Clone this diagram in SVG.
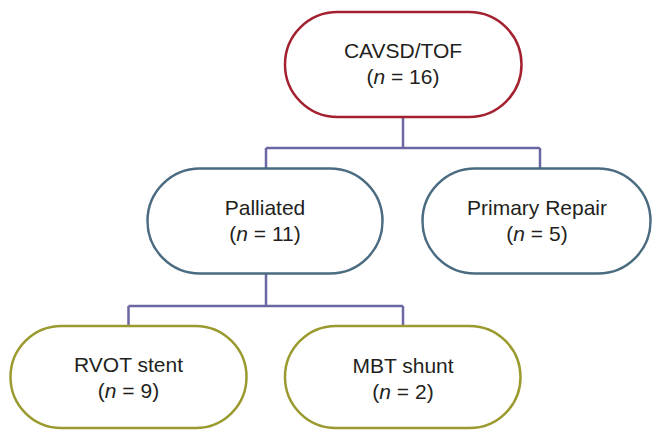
<svg xmlns="http://www.w3.org/2000/svg" width="652" height="430" viewBox="0 0 652 430">
  <style>
    .node { fill: #ffffff; stroke-width: 2.5; }
    .root { stroke: #a3202f; }
    .mid { stroke: #4a6b80; }
    .leaf { stroke: #9b9a2f; }
    .label { font-family: "Liberation Sans", Arial, sans-serif; font-size: 21px; fill: #231f20; text-anchor: middle; }
    .conn { fill: none; stroke: #6b67a3; stroke-width: 2.5; }
  </style>
  <rect width="652" height="430" fill="#ffffff"/>

  <g id="connectors">
    <path class="conn" d="M403 117 V148 M266 148 H540 M266 168 V148 M540 148 V168"/>
    <path class="conn" d="M266 273 V306 M128.5 306 H403 M128.5 306 V326 M403 306 V326"/>
  </g>

  <g id="cavsd-tof">
    <rect class="node root" x="285" y="12" width="236.5" height="105" rx="52.5"/>
    <text class="label" x="403" y="58">CAVSD/TOF</text>
    <text class="label" x="403" y="84">(<tspan font-style="italic">n</tspan> = 16)</text>
  </g>

  <g id="palliated">
    <rect class="node mid" x="147.5" y="168.5" width="235" height="105" rx="52.5"/>
    <text class="label" x="265" y="215">Palliated</text>
    <text class="label" x="265" y="241">(<tspan font-style="italic">n</tspan> = 11)</text>
  </g>

  <g id="primary-repair">
    <rect class="node mid" x="422.5" y="168.5" width="228" height="105" rx="52.5"/>
    <text class="label" x="537" y="214.5">Primary Repair</text>
    <text class="label" x="537" y="240.5">(<tspan font-style="italic">n</tspan> = 5)</text>
  </g>

  <g id="rvot-stent">
    <rect class="node leaf" x="10.5" y="326" width="236" height="102" rx="51"/>
    <text class="label" x="128.5" y="372">RVOT stent</text>
    <text class="label" x="128.5" y="398">(<tspan font-style="italic">n</tspan> = 9)</text>
  </g>

  <g id="mbt-shunt">
    <rect class="node leaf" x="285" y="326" width="235.5" height="102" rx="51"/>
    <text class="label" x="403" y="372.5">MBT shunt</text>
    <text class="label" x="403" y="398.5">(<tspan font-style="italic">n</tspan> = 2)</text>
  </g>
</svg>
